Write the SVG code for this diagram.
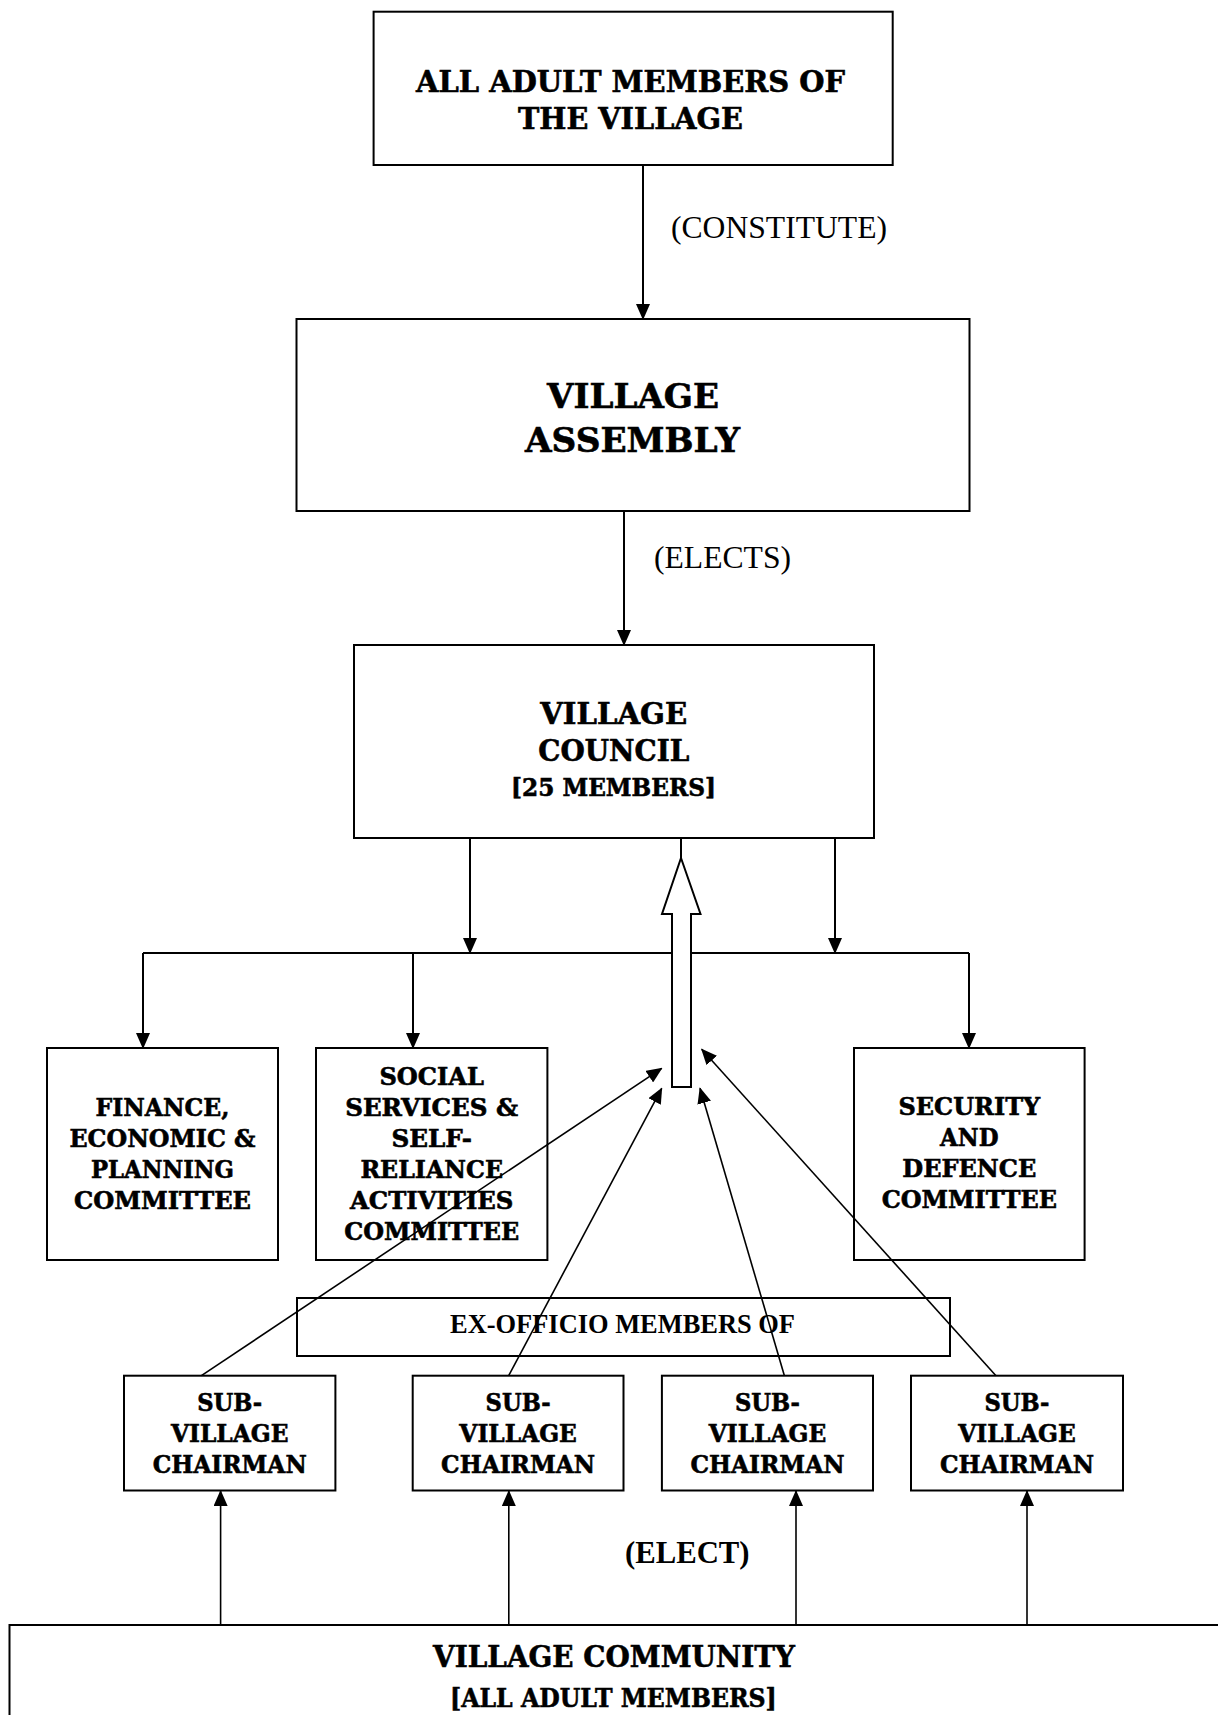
<svg xmlns="http://www.w3.org/2000/svg" width="1218" height="1715" viewBox="0 0 1218 1715">
<style>
  .box { fill: #fff; stroke: #000; stroke-width: 2; }
  .bk { font-family: "DejaVu Serif", "Liberation Serif", serif; font-weight: bold; fill: #000; stroke: #000; stroke-width: 0.6; text-anchor: middle; }
  .tr { font-family: "Liberation Serif", "Times New Roman", serif; fill: #000; }
  .trb { font-family: "Liberation Serif", "Times New Roman", serif; font-weight: bold; fill: #000; }
  .ln { fill: none; stroke: #000; stroke-width: 2; }
  .dg { fill: none; stroke: #000; stroke-width: 1.6; }
  .s24 { font-size: 24px; }
</style>
<defs>
  <marker id="ah" markerUnits="userSpaceOnUse" markerWidth="16" markerHeight="14" refX="15" refY="7" orient="auto">
    <path d="M0,0 L16,7 L0,14 z" fill="#000"/>
  </marker>
</defs>
<rect width="1218" height="1715" fill="#fff"/>

<g id="node-all-adult">
  <rect class="box" x="373.6" y="11.7" width="519.1" height="153.3"/>
  <text class="bk" x="630.5" y="91.7" font-size="29" textLength="429" lengthAdjust="spacingAndGlyphs">ALL ADULT MEMBERS OF</text>
  <text class="bk" x="630.5" y="129.3" font-size="29" textLength="225" lengthAdjust="spacingAndGlyphs">THE VILLAGE</text>
</g>

<g id="node-assembly">
  <rect class="box" x="296.5" y="319" width="673" height="192"/>
  <text class="bk" x="633" y="408" font-size="33" textLength="172" lengthAdjust="spacingAndGlyphs">VILLAGE</text>
  <text class="bk" x="632.5" y="452" font-size="33" textLength="215" lengthAdjust="spacingAndGlyphs">ASSEMBLY</text>
</g>

<g id="node-council">
  <rect class="box" x="354" y="645" width="520" height="193"/>
  <text class="bk" x="613.7" y="724.3" font-size="29" textLength="147" lengthAdjust="spacingAndGlyphs">VILLAGE</text>
  <text class="bk" x="613.8" y="761" font-size="29" textLength="151" lengthAdjust="spacingAndGlyphs">COUNCIL</text>
  <text class="bk" x="613.5" y="796" font-size="24" textLength="205" lengthAdjust="spacingAndGlyphs">[25 MEMBERS]</text>
</g>

<g id="node-finance">
  <rect class="box" x="47" y="1048" width="231" height="212"/>
  <text class="bk s24" x="162.5" y="1116" textLength="134" lengthAdjust="spacingAndGlyphs">FINANCE,</text>
  <text class="bk s24" x="162.5" y="1147" textLength="186" lengthAdjust="spacingAndGlyphs">ECONOMIC &amp;</text>
  <text class="bk s24" x="162.5" y="1178" textLength="143" lengthAdjust="spacingAndGlyphs">PLANNING</text>
  <text class="bk s24" x="162.5" y="1209" textLength="177" lengthAdjust="spacingAndGlyphs">COMMITTEE</text>
</g>

<g id="node-social">
  <rect class="box" x="316" y="1048" width="231.4" height="212"/>
  <text class="bk s24" x="431.7" y="1085" textLength="104.5" lengthAdjust="spacingAndGlyphs">SOCIAL</text>
  <text class="bk s24" x="431.7" y="1116" textLength="173" lengthAdjust="spacingAndGlyphs">SERVICES &amp;</text>
  <text class="bk s24" x="431.7" y="1147" textLength="80.4" lengthAdjust="spacingAndGlyphs">SELF-</text>
  <text class="bk s24" x="431.7" y="1178" textLength="142.6" lengthAdjust="spacingAndGlyphs">RELIANCE</text>
  <text class="bk s24" x="431.7" y="1209" textLength="163.4" lengthAdjust="spacingAndGlyphs">ACTIVITIES</text>
  <text class="bk s24" x="431.7" y="1240" textLength="175" lengthAdjust="spacingAndGlyphs">COMMITTEE</text>
</g>

<g id="node-security">
  <rect class="box" x="854" y="1048" width="230.6" height="212"/>
  <text class="bk s24" x="969.3" y="1115" textLength="141.5" lengthAdjust="spacingAndGlyphs">SECURITY</text>
  <text class="bk s24" x="969.3" y="1146" textLength="58.4" lengthAdjust="spacingAndGlyphs">AND</text>
  <text class="bk s24" x="969.3" y="1177" textLength="134" lengthAdjust="spacingAndGlyphs">DEFENCE</text>
  <text class="bk s24" x="969.3" y="1208" textLength="175.3" lengthAdjust="spacingAndGlyphs">COMMITTEE</text>
</g>

<g id="node-exofficio">
  <rect class="box" x="297" y="1298" width="653" height="58"/>
  <text class="trb" x="622.5" y="1333" font-size="26.5" text-anchor="middle" textLength="345" lengthAdjust="spacingAndGlyphs">EX-OFFICIO MEMBERS OF</text>
</g>

<g id="node-sub1">
  <rect class="box" x="124" y="1375.7" width="211.4" height="114.8"/>
  <text class="bk s24" x="229.7" y="1410.7" textLength="65" lengthAdjust="spacingAndGlyphs">SUB-</text>
  <text class="bk s24" x="229.7" y="1442" textLength="117.5" lengthAdjust="spacingAndGlyphs">VILLAGE</text>
  <text class="bk s24" x="229.7" y="1472.7" textLength="154" lengthAdjust="spacingAndGlyphs">CHAIRMAN</text>
</g>

<g id="node-sub2">
  <rect class="box" x="412.7" y="1375.7" width="210.8" height="114.8"/>
  <text class="bk s24" x="518.1" y="1410.7" textLength="65" lengthAdjust="spacingAndGlyphs">SUB-</text>
  <text class="bk s24" x="518.1" y="1442" textLength="117.5" lengthAdjust="spacingAndGlyphs">VILLAGE</text>
  <text class="bk s24" x="518.1" y="1472.7" textLength="154" lengthAdjust="spacingAndGlyphs">CHAIRMAN</text>
</g>

<g id="node-sub3">
  <rect class="box" x="661.9" y="1375.7" width="211.1" height="114.8"/>
  <text class="bk s24" x="767.5" y="1410.7" textLength="65" lengthAdjust="spacingAndGlyphs">SUB-</text>
  <text class="bk s24" x="767.5" y="1442" textLength="117.5" lengthAdjust="spacingAndGlyphs">VILLAGE</text>
  <text class="bk s24" x="767.5" y="1472.7" textLength="154" lengthAdjust="spacingAndGlyphs">CHAIRMAN</text>
</g>

<g id="node-sub4">
  <rect class="box" x="911" y="1375.7" width="212" height="114.8"/>
  <text class="bk s24" x="1017" y="1410.7" textLength="65" lengthAdjust="spacingAndGlyphs">SUB-</text>
  <text class="bk s24" x="1017" y="1442" textLength="117.5" lengthAdjust="spacingAndGlyphs">VILLAGE</text>
  <text class="bk s24" x="1017" y="1472.7" textLength="154" lengthAdjust="spacingAndGlyphs">CHAIRMAN</text>
</g>

<g id="node-community">
  <rect class="box" x="9.5" y="1625" width="1240" height="200"/>
  <text class="bk" x="614" y="1667.3" font-size="30" textLength="362" lengthAdjust="spacingAndGlyphs">VILLAGE COMMUNITY</text>
  <text class="bk" x="613.4" y="1707" font-size="26" textLength="326.7" lengthAdjust="spacingAndGlyphs">[ALL ADULT MEMBERS]</text>
</g>

<g id="connectors">
  <line class="ln" x1="643" y1="165" x2="643" y2="319" marker-end="url(#ah)"/>
  <line class="ln" x1="624" y1="511" x2="624" y2="645" marker-end="url(#ah)"/>
  <line class="ln" x1="470" y1="838" x2="470" y2="953" marker-end="url(#ah)"/>
  <line class="ln" x1="835" y1="838" x2="835" y2="953" marker-end="url(#ah)"/>
  <polyline class="ln" points="143,953 969,953"/>
  <line class="ln" x1="143" y1="953" x2="143" y2="1048" marker-end="url(#ah)"/>
  <line class="ln" x1="413" y1="953" x2="413" y2="1048" marker-end="url(#ah)"/>
  <line class="ln" x1="969" y1="953" x2="969" y2="1048" marker-end="url(#ah)"/>
  <line class="ln" x1="681" y1="838" x2="681" y2="858"/>
  <polygon class="box" points="681,858 700.5,914 691,914 691,1087 672,1087 672,914 662,914"/>
  <line class="dg" x1="201.4" y1="1375.7" x2="661.7" y2="1068.3" marker-end="url(#ah)"/>
  <line class="dg" x1="508.7" y1="1375.7" x2="661.7" y2="1088.3" marker-end="url(#ah)"/>
  <line class="dg" x1="784.4" y1="1375.7" x2="700" y2="1088.3" marker-end="url(#ah)"/>
  <line class="dg" x1="996" y1="1375.7" x2="701.7" y2="1049.3" marker-end="url(#ah)"/>
  <line class="dg" x1="220.6" y1="1625" x2="220.6" y2="1491" marker-end="url(#ah)"/>
  <line class="dg" x1="508.8" y1="1625" x2="508.8" y2="1491" marker-end="url(#ah)"/>
  <line class="dg" x1="796" y1="1625" x2="796" y2="1491" marker-end="url(#ah)"/>
  <line class="dg" x1="1027" y1="1625" x2="1027" y2="1491" marker-end="url(#ah)"/>
  <text class="tr" x="671" y="238" font-size="32" textLength="216" lengthAdjust="spacingAndGlyphs">(CONSTITUTE)</text>
  <text class="tr" x="654" y="568" font-size="32" textLength="137" lengthAdjust="spacingAndGlyphs">(ELECTS)</text>
  <text class="trb" x="625" y="1563" font-size="30.7" textLength="124.6" lengthAdjust="spacingAndGlyphs">(ELECT)</text>
</g>
</svg>
